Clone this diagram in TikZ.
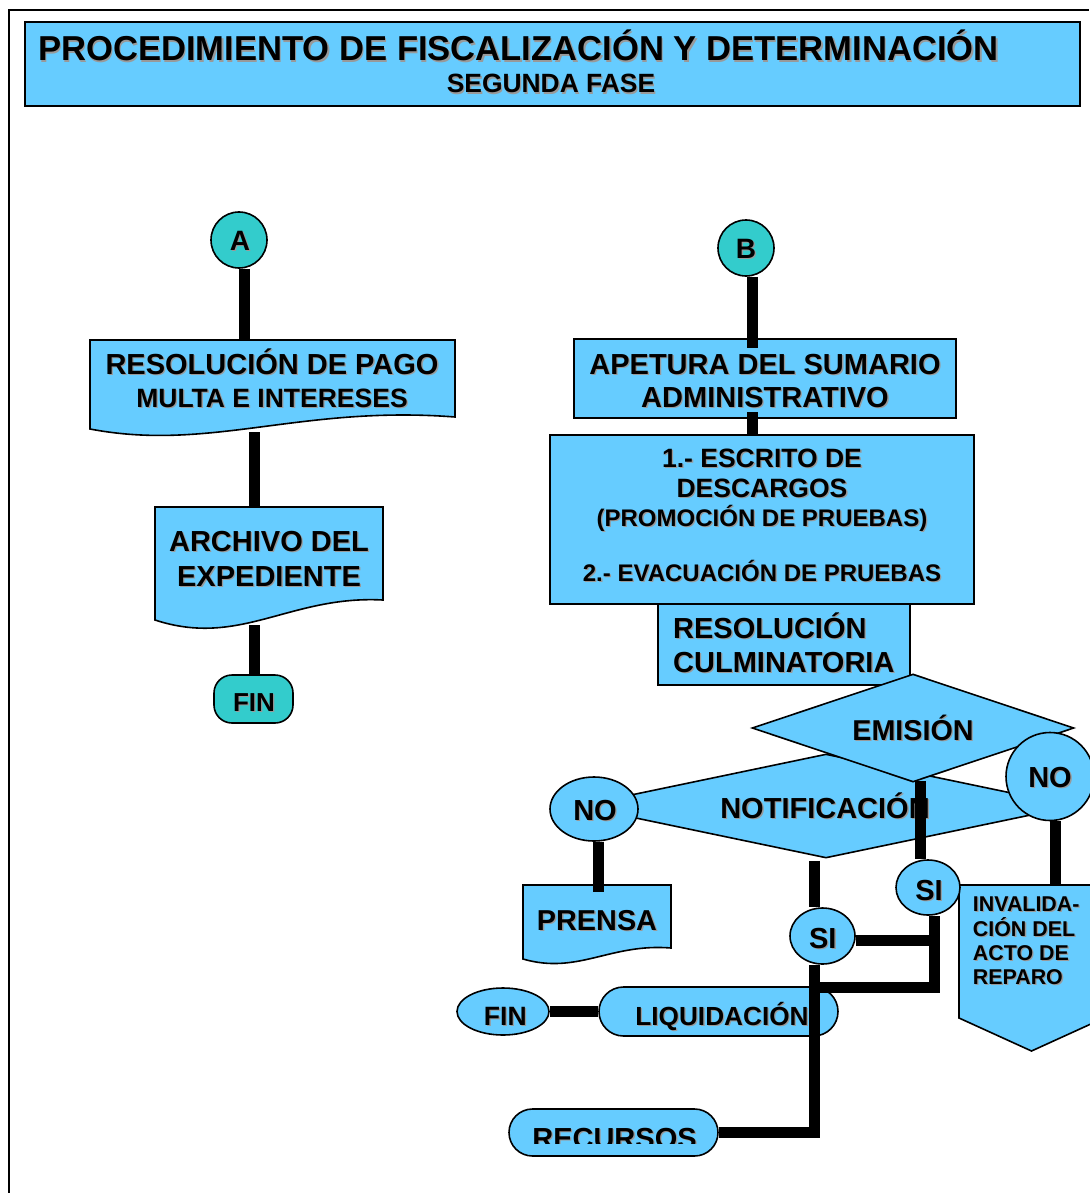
\documentclass[tikz,border=0pt]{standalone}
\usepackage{fontspec}
\setmainfont{Liberation Sans}
\usetikzlibrary{shapes.geometric,shapes.misc}
\definecolor{lblue}{HTML}{66CCFF}
\definecolor{tealc}{HTML}{33CCCC}
\definecolor{shadc}{HTML}{999999}
\newcommand{\shd}[1]{\rlap{\kern1.3pt\raisebox{-1.3pt}{\color{shadc}#1}}#1}
\begin{document}
\begin{tikzpicture}[x=1pt,y=-1pt,
  shp/.style={draw=black, line width=1.6pt, fill=lblue, inner sep=0pt},
  conn/.style={line width=11pt, black},
  txt/.style={inner sep=0pt, anchor=base, font=\bfseries\fontsize{#1}{#1}\selectfont},
]
\useasboundingbox (0,0) rectangle (1089,1193);
\fill[white] (0,0) rectangle (1089,1193);
\draw[line width=2pt] (9,1193) -- (9,10) -- (1089,10);

% title
\node[shp, minimum width=1055pt, minimum height=84pt, anchor=north west] (title) at (24,21.5) {};
\node[txt=34.6, anchor=base west] (t1) at (38,61) {\shd{PROCEDIMIENTO DE FISCALIZACIÓN Y DETERMINACIÓN}};
\node[txt=26.4] (t2) at (551,93) {\shd{SEGUNDA FASE}};

% ---------- left column ----------
\node[circle, shp, fill=tealc, minimum size=56pt] (A) at (239,240) {};
\node[txt=28] (At) at (240,250) {\shd{A}};

\node[inner sep=0pt, minimum width=365pt, minimum height=96pt, anchor=north west] (resPago) at (90,340) {};
\draw[shp] (90,340) -- (455,340) -- (455,417) .. controls (300,405) and (210,452) .. (90,429) -- cycle;
\node[txt=29] (rp1) at (272,374.4) {\shd{RESOLUCIÓN DE PAGO}};
\node[txt=26.5] (rp2) at (272,407.5) {\shd{MULTA E INTERESES}};

\node[inner sep=0pt, minimum width=228pt, minimum height=121pt, anchor=north west] (archivo) at (155,507) {};
\draw[shp] (155,507) -- (383,507) -- (383,600) .. controls (290,595) and (240,648) .. (155,620) -- cycle;
\node[txt=29] (ar1) at (269,551.4) {\shd{ARCHIVO DEL}};
\node[txt=29] (ar2) at (269,586.4) {\shd{EXPEDIENTE}};

\node[shp, fill=tealc, rounded corners=18pt, minimum width=79pt, minimum height=48pt] (fin1) at (253.5,699) {};
\node[txt=26] (fin1t) at (254,711) {\shd{FIN}};

\coordinate (rpout) at (254.5,432);
\coordinate (arout) at (254,625);
\draw[conn] ([xshift=5pt]A.south) -- ([xshift=5pt]A.south |- resPago.north);
\draw[conn] (rpout) -- (rpout |- archivo.north);
\draw[conn] (arout) -- (arout |- fin1.north);

% ---------- right column ----------
\node[circle, shp, fill=tealc, minimum size=56pt] (B) at (746,248) {};
\node[txt=28] (Bt) at (746,258) {\shd{B}};

\node[shp, minimum width=382pt, minimum height=79pt] (apet) at (765,378.5) {};
\node[txt=29] (ap1) at (765,374.4) {\shd{APETURA DEL SUMARIO}};
\node[txt=29] (ap2) at (765,407) {\shd{ADMINISTRATIVO}};

\node[shp, minimum width=424pt, minimum height=169pt] (escr) at (762,519.5) {};
\node[txt=26.5] (es1) at (762,467.5) {\shd{1.- ESCRITO DE}};
\node[txt=26.5] (es2) at (762,497.5) {\shd{DESCARGOS}};
\node[txt=24] (es3) at (762,526.6) {\shd{(PROMOCIÓN DE PRUEBAS)}};
\node[txt=24] (es4) at (762,581.6) {\shd{2.- EVACUACIÓN DE PRUEBAS}};

\node[shp, minimum width=252pt, minimum height=81pt] (culm) at (784,644.5) {};
\node[txt=29, anchor=base west] (cu1) at (673,638.4) {\shd{RESOLUCIÓN}};
\node[txt=29, anchor=base west] (cu2) at (673,672) {\shd{CULMINATORIA}};

\node[diamond, shp, minimum width=496pt, minimum height=104pt] (notif) at (826,806) {};
\node[txt=29] (notift) at (825,818.4) {\shd{NOTIFICACIÓN}};

\node[diamond, shp, minimum width=322pt, minimum height=108pt] (emis) at (913,728) {};
\node[txt=28.7] (emist) at (913,740.3) {\shd{EMISIÓN}};

\node[ellipse, shp, minimum width=88pt, minimum height=64pt] (noL) at (594,809) {};
\node[txt=29] (noLt) at (595,820.4) {\shd{NO}};

\node[circle, shp, minimum size=88pt] (noR) at (1050,776.5) {};
\node[txt=29] (noRt) at (1050,787) {\shd{NO}};

\node[inner sep=0pt, minimum width=148pt, minimum height=79pt, anchor=north west] (prensa) at (523,885) {};
\draw[shp] (523,885) -- (671,885) -- (671,948) .. controls (610,943) and (578,975) .. (523,959) -- cycle;
\node[txt=28.8] (prt) at (597,930) {\shd{PRENSA}};

\node[inner sep=0pt, minimum width=145pt, minimum height=166pt, anchor=north west] (inval) at (959,885) {};
\draw[shp] (959,885) -- (1104,885) -- (1104,1018) -- (1031.5,1051) -- (959,1018) -- cycle;
\node[txt=21.4, anchor=base west] (iv1) at (972.7,911.5) {\shd{INVALIDA-}};
\node[txt=21.4, anchor=base west] (iv2) at (972.7,936) {\shd{CIÓN DEL}};
\node[txt=21.4, anchor=base west] (iv3) at (972.7,960) {\shd{ACTO DE}};
\node[txt=21.4, anchor=base west] (iv4) at (972.7,984) {\shd{REPARO}};

\node[ellipse, shp, minimum width=64pt, minimum height=55pt] (siU) at (928,887.5) {};
\node[txt=29] (siUt) at (929,900) {\shd{SI}};
\node[ellipse, shp, minimum width=65pt, minimum height=56pt] (siL) at (822.5,936) {};
\node[txt=29] (siLt) at (822.8,948) {\shd{SI}};

\node[rounded rectangle, shp, minimum width=239pt, minimum height=49pt] (liq) at (718.5,1011.5) {};
\node[txt=26.2] (liqt) at (722,1025) {\shd{LIQUIDACIÓN}};

\node[ellipse, shp, minimum width=92pt, minimum height=47pt] (fin2) at (503,1011.5) {};
\node[txt=26.5] (fin2t) at (505.3,1025) {\shd{FIN}};

\node[rounded rectangle, shp, minimum width=209pt, minimum height=47pt] (rec) at (613.5,1132.5) {};
\begin{scope}
  \clip (500,1100) rectangle (730,1143.5);
  \node[txt=29] (rect) at (614.5,1148) {\shd{RECURSOS}};
\end{scope}

% connectors right
\coordinate (jn) at (814.5,987);
\coordinate (jr) at (934.5,940);
\draw[conn] ([xshift=6.5pt]B.south) -- ([xshift=6.5pt,yshift=-10pt]B.south |- apet.north);
\draw[conn] ([xshift=-12.5pt,yshift=6.5pt]apet.south) -- ([xshift=-9.5pt]escr.north);
\draw[conn] ([xshift=7pt,yshift=2pt]emis.south) -- ([xshift=-8pt]siU.north);
\draw[conn] ([xshift=-11.5pt,yshift=-2pt]notif.south) -- ([xshift=-8pt]siL.north);
\draw[conn] ([xshift=-8pt]siL.south) |- (rec.east);
\draw[conn] ([yshift=-4pt]siL.east) -- (jr);
\draw[conn] ([xshift=6.5pt]siU.south) |- (jn);
\draw[conn] (fin2.east) -- (liq.west);
\draw[conn] ([xshift=4.5pt]noL.south) -- ([xshift=4.5pt,yshift=-7pt]noL.south |- prensa.north);
\draw[conn] ([xshift=5pt]noR.south) -- ([xshift=5pt]noR.south |- inval.north);
\end{tikzpicture}
\end{document}
